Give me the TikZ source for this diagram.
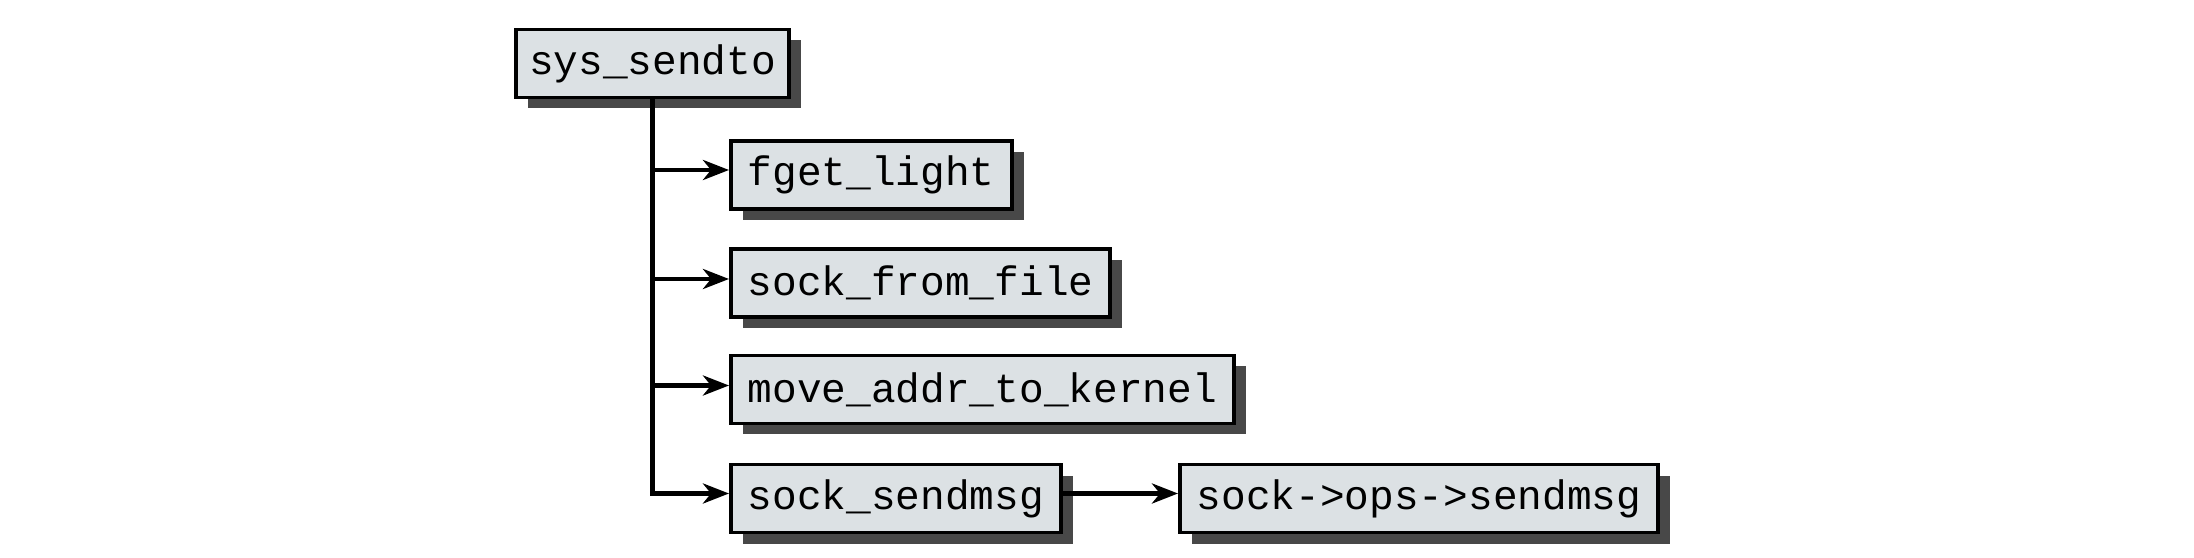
\documentclass[tikz,border=0pt]{standalone}
\usepackage{fontspec}
\setmonofont{Liberation Mono}
\usepackage{tikz}
\usetikzlibrary{positioning,arrows.meta,shadows}
\usepackage{xcolor}
\definecolor{BoxFill}{HTML}{DCE1E4}
\definecolor{BoxShadow}{HTML}{484848}

\begin{document}
\begin{tikzpicture}[
    every node/.style={
        draw=black,
        fill=BoxFill,
        line width=1.1pt,
        minimum height=0.68cm,
        inner xsep=0.17cm,
        font=\ttfamily\fontsize{11.7}{14}\selectfont,
        drop shadow={shadow xshift=0.12cm, shadow yshift=-0.11cm,
                     fill=BoxShadow, opacity=1}
    },
    call/.style={
        draw=black,
        line width=1.4pt,
        -{Stealth[length=0.26cm,width=0.2cm,inset=0.08cm]}
    }
]

\useasboundingbox (0,0) rectangle (21.94,5.57);

\node[inner xsep=0.13cm] (sys) at (6.525,4.935) {sys\_sendto};

\node[anchor=west] (fget) at (7.29,3.82) {fget\_light};
\node[anchor=west] (sockfile) at (7.29,2.74) {sock\_from\_file};
\node[anchor=west] (moveaddr) at (7.29,1.675) {move\_addr\_to\_kernel};
\node[anchor=west] (sendmsg) at (7.29,0.585) {sock\_sendmsg};

\node[right=1.15cm of sendmsg] (opssend) {sock->ops->sendmsg};

% calls out of sys_sendto
\draw[call] (sys.south) |- ([yshift=0.05cm]fget.west);
\draw[call] (sys.south) |- ([yshift=0.04cm]sockfile.west);
\draw[call] (sys.south) |- ([yshift=0.04cm]moveaddr.west);
\draw[call] (sys.south) |- ([yshift=0.05cm]sendmsg.west);

\draw[call] ([yshift=0.05cm]sendmsg.east)--([yshift=0.05cm]opssend.west);

\end{tikzpicture}
\end{document}
